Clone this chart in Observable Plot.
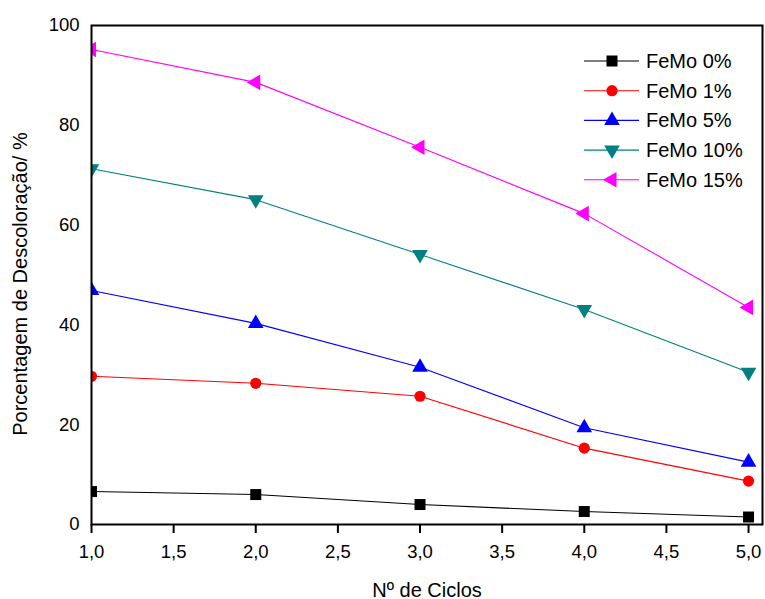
<!DOCTYPE html>
<html>
<head>
<meta charset="utf-8">
<script src="https://cdn.jsdelivr.net/npm/d3@7"></script>
<script src="https://cdn.jsdelivr.net/npm/@observablehq/plot@0.6"></script>
<style>
  html, body { margin: 0; padding: 0; background: white; }
  #wrap { position: relative; width: 765px; height: 599px; }
  #wrap svg { display: block; }
  #legend { position: absolute; left: 0; top: 0; pointer-events: none; }
</style>
</head>
<body>
<div id="wrap"></div>
<script>
const cycles = [1, 2, 3, 4, 5];
const femo0  = [6.6, 6.0, 4.0, 2.6, 1.5];
const femo1  = [29.7, 28.3, 25.7, 15.3, 8.7];
const femo5  = [46.9, 40.3, 31.5, 19.4, 12.5];
const femo10 = [71.3, 65.1, 54.1, 43.1, 30.5];
const femo15 = [95.2, 88.6, 75.6, 62.3, 43.5];
const seriesNames = ["FeMo 0%", "FeMo 1%", "FeMo 5%", "FeMo 10%", "FeMo 15%"];
const seriesValues = [femo0, femo1, femo5, femo10, femo15];
const seriesColors = ["#000000", "#ff0000", "#0000ff", "#008080", "#ff00ff"];
const xTicks = [1, 1.5, 2, 2.5, 3, 3.5, 4, 4.5, 5];
const yTicks = [0, 20, 40, 60, 80, 100];
const xLabel = "Nº de Ciclos";
const yLabel = "Porcentagem de Descoloração/ %";

const sqrt3 = Math.sqrt(3);
const triUp = d3.symbolTriangle;
const triDown = {
  draw(ctx, size) {
    const y = -Math.sqrt(size / (sqrt3 * 3));
    ctx.moveTo(0, -y * 2);
    ctx.lineTo(-sqrt3 * y, y);
    ctx.lineTo(sqrt3 * y, y);
    ctx.closePath();
  }
};
const triLeft = {
  draw(ctx, size) {
    const y = -Math.sqrt(size / (sqrt3 * 3));
    ctx.moveTo(y * 2, 0);
    ctx.lineTo(-y, -sqrt3 * y);
    ctx.lineTo(-y, sqrt3 * y);
    ctx.closePath();
  }
};
const seriesSymbols = [d3.symbolSquare, d3.symbolCircle, triUp, triDown, triLeft];
const seriesR = [6.2, 5.6, 5.8, 5.8, 5.8];

const rows = [];
seriesNames.forEach((name, i) => {
  cycles.forEach((c, j) => rows.push({series: name, idx: i, x: c, y: seriesValues[i][j]}));
});

const fmt = d => d.toFixed(1).replace(".", ",");
const font = "'Liberation Sans', Arial, sans-serif";

const marks = [];
seriesNames.forEach((name, i) => {
  const data = rows.filter(r => r.idx === i);
  marks.push(Plot.line(data, {x: "x", y: "y", stroke: seriesColors[i], strokeWidth: 1.1, clip: true}));
  marks.push(Plot.dot(data, {x: "x", y: "y", fill: seriesColors[i], stroke: "none", symbol: seriesSymbols[i], r: seriesR[i], clip: true}));
});

const chart = Plot.plot({
  width: 765,
  height: 599,
  marginLeft: 91,
  marginRight: 3,
  marginTop: 25,
  marginBottom: 75,
  style: {fontFamily: font, fontSize: "18.5px", background: "white", color: "black"},
  x: {domain: [1, 5.085]},
  y: {domain: [0, 100]},
  marks: [
    Plot.axisX({ticks: xTicks, tickFormat: fmt, tickSize: 9, tickPadding: 11, strokeWidth: 2, label: null, fontSize: 18.5}),
    Plot.axisY({ticks: yTicks, tickSize: 0, tickPadding: 12, label: null, fontSize: 18.5}),
    ...marks,
    Plot.frame({stroke: "black", strokeWidth: 2}),
    Plot.text([xLabel], {frameAnchor: "bottom", dy: 72, fontSize: 20, textAnchor: "middle", text: d => d}),
    Plot.text([yLabel], {frameAnchor: "left", dx: -71, dy: 9, rotate: -90, fontSize: 20, textAnchor: "middle", text: d => d})
  ]
});

const wrap = document.getElementById("wrap");
wrap.appendChild(chart);

// Legend overlay
const leg = d3.select(wrap).append("svg")
  .attr("id", "legend")
  .attr("width", 765).attr("height", 599);
const lx0 = 584, lx1 = 639, lmx = 612, ltx = 646, ly0 = 61, ldy = 29.7;
seriesNames.forEach((name, i) => {
  const y = ly0 + i * ldy;
  const g = leg.append("g");
  g.append("line").attr("x1", lx0).attr("x2", lx1).attr("y1", y).attr("y2", y)
    .attr("stroke", seriesColors[i]).attr("stroke-width", 1.1);
  g.append("path")
    .attr("d", d3.symbol(seriesSymbols[i], Math.PI * seriesR[i] * seriesR[i])())
    .attr("transform", `translate(${lmx},${y})`)
    .attr("fill", seriesColors[i]);
  g.append("text").attr("x", ltx).attr("y", y).attr("dy", "0.35em")
    .attr("font-family", font).attr("font-size", 20).attr("fill", "black")
    .text(name);
});
</script>
</body>
</html>
